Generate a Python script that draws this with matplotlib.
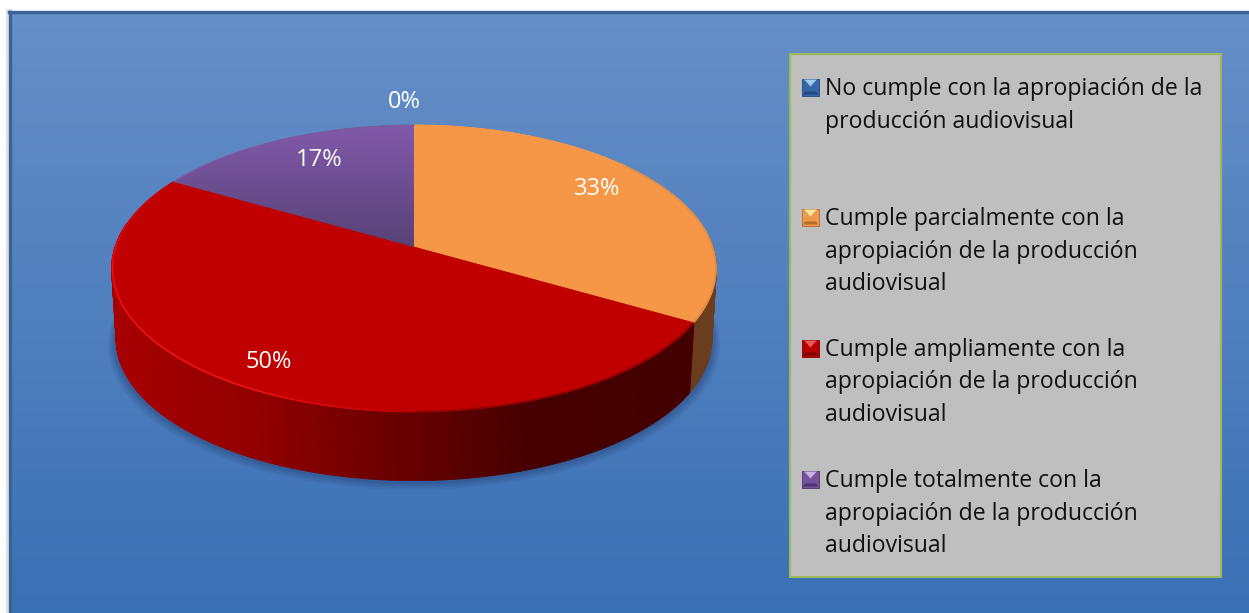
import numpy as np
import matplotlib
matplotlib.use("Agg")
import matplotlib.pyplot as plt
from matplotlib.patches import Polygon, Rectangle

# data
categories = [
    "No cumple con la apropiación de la\nproducción audiovisual",
    "Cumple parcialmente con la\napropiación de la producción\naudiovisual",
    "Cumple ampliamente con la\napropiación de la producción\naudiovisual",
    "Cumple totalmente con la\napropiación de la producción\naudiovisual",
]
values = [0, 2, 3, 1]
slice_names = ["blue", "orange", "red", "purple"]

# look
marker_cols = {"blue": ("#1f4a80", "#3568a8", "#9fcdf5"), "orange": ("#b86c2c", "#ee9a4c", "#fde6a0"),
               "red": ("#7c0000", "#b80000", "#ea5a5a"), "purple": ("#4c3370", "#74529c", "#c8b0e0")}
wall_cols = {"orange": (0.42, 0.24, 0.11), "red": (0.66, 0.0, 0.0), "purple": (0.3, 0.2, 0.4), "blue": (0.1, 0.2, 0.4)}
label_xy = [(404, 102), (597, 189), (269, 362), (319, 160)]
legend_first_y = [87, 217, 348, 479]
text_first_y = [89, 219, 350, 481]
line_step = 32.5

CX, APEX_Y = 414, 247
A, B, K = 299, 140.3, 0.15
WALL_SCALE, WALL_DY = 0.985, 71


def project(theta, scale=1.0, dy=0.0, r=1.0):
    # theta clockwise from the top of the disc, degrees
    t = np.radians(theta)
    x, y = r * np.sin(t), r * np.cos(t)
    d = 1 + K * y
    return CX + scale * A * x / d, APEX_Y + dy - scale * B * y / d


def gradient(ax, extent, top, bottom, clip=None, z=1):
    top, bottom = np.array(top), np.array(bottom)
    f = np.linspace(0, 1, 256)[:, None, None]
    img = top[None, None, :] * (1 - f) + bottom[None, None, :] * f
    im = ax.imshow(img, extent=extent, aspect="auto", zorder=z, interpolation="bilinear")
    if clip is not None:
        im.set_clip_path(clip)
    return im


def wall_shade(x, base):
    # dark towards the right of the picture
    f = np.interp(x, [115, 260, 400, 530, 700], [1.0, 0.86, 0.62, 0.42, 0.40])
    return tuple(c * f for c in base) if base == wall_cols["red"] else base


W, H = 1249, 613
fig = plt.figure(figsize=(W / 100, H / 100), dpi=100, facecolor="white")
ax = fig.add_axes([0, 0, 1, 1])
ax.set_xlim(0, W)
ax.set_ylim(H, 0)
ax.set_axis_off()

# panel
ax.add_patch(Rectangle((6, 9), 6, H, fc="#e0e0e0", ec="none", zorder=0.5))
gradient(ax, (9, W, H, 11), (0.40, 0.56, 0.78), (0.23, 0.44, 0.71), z=1)
ax.plot([10, 10], [H, 12], color="#3a6296", lw=2.4, zorder=2)
ax.plot([9, W], [12, 12], color="#3a6296", lw=2.4, zorder=2)

# shadow below the pie
th_all = np.arange(0, 360.5, 2)
for i, alpha in enumerate([0.06, 0.07, 0.08, 0.10]):
    grow = 1.012 - i * 0.006
    sx, sy = project(th_all, scale=grow, dy=WALL_DY + 5 - i)
    ax.add_patch(Polygon(np.c_[sx, sy], fc=(0.05, 0.12, 0.3), ec="none", alpha=alpha, zorder=3))

# slices
edges = np.cumsum([0] + values) / sum(values) * 360.0

# wall, front half only
for name, t0, t1 in zip(slice_names, edges[:-1], edges[1:]):
    lo, hi = max(t0, 85), min(t1, 280)
    if hi <= lo:
        continue
    ths = np.arange(lo, hi + 0.5, 1.0)
    ths[-1] = hi
    for a, b in zip(ths[:-1], ths[1:]):
        xa, ya = project(a)
        xb, yb = project(b)
        xc, yc = project(b, WALL_SCALE, WALL_DY)
        xd, yd = project(a, WALL_SCALE, WALL_DY)
        col = wall_shade((xa + xb) / 2, wall_cols[name])
        ax.add_patch(Polygon([(xa, ya), (xb, yb), (xc, yc), (xd, yd)], fc=col, ec=col, lw=0.6, zorder=4))

# top face
for name, t0, t1 in zip(slice_names, edges[:-1], edges[1:]):
    if t1 <= t0:
        continue
    ths = np.linspace(t0, t1, 120)
    sx, sy = project(ths)
    pts = np.r_[[(CX, APEX_Y)], np.c_[sx, sy]]
    if name == "orange":
        ax.add_patch(Polygon(pts, fc="#f59746", ec="#f59746", lw=0.5, zorder=5))
    elif name == "red":
        ax.add_patch(Polygon(pts, fc="#c00000", ec="#c00000", lw=0.5, zorder=5))
    elif name == "purple":
        p = Polygon(pts, fc="none", ec="none", zorder=5)
        ax.add_patch(p)
        gradient(ax, (170, 415, 248, 125), (0.51, 0.35, 0.67), (0.34, 0.26, 0.46), clip=p, z=5)

# rim highlight and bevel
for name, t0, t1 in zip(slice_names, edges[:-1], edges[1:]):
    ths = np.arange(t0, t1 + 1, 1.5)
    if len(ths) < 2:
        continue
    sx, sy = project(ths, r=0.997)
    for i in range(len(ths) - 1):
        if name == "red":
            f = np.interp(ths[i], [180, 210, 260, 298], [0.0, 0.8, 0.7, 0.0])
            col = (min(1, 0.75 + 0.25 * f), 0.12 * f, 0.12 * f)
            if ths[i] < 180:
                col = (0.55, 0.0, 0.0)
        elif name == "orange":
            col = "#e58c42" if ths[i] > 50 else "#f59746"
        else:
            col = "#7b5a9e"
        ax.plot(sx[i:i + 2], sy[i:i + 2], color=col, lw=1.0, zorder=6, solid_capstyle="round")

# labels
total = sum(values)
for v, (lx, ly) in zip(values, label_xy):
    ax.text(lx, ly, f"{round(100 * v / total)}%", color="white", fontsize=17, family="Open Sans",
            ha="center", va="center", zorder=8)

# legend
ax.add_patch(Rectangle((790, 54), 431, 523, fc="#bfbfbf", ec="#9bbb59", lw=1.5, zorder=7))
for name, label, y0, ty in zip(slice_names, categories, legend_first_y, text_first_y):
    dark, mid, light = marker_cols[name]
    mx0, mx1, my0, my1 = 802, 819, y0 - 8.5, y0 + 8.5
    ax.add_patch(Rectangle((mx0, my0), 17, 17, fc=mid, ec=dark, lw=0.6, zorder=8))
    ax.add_patch(Polygon([(mx0 + 1, my1 - 1), (mx1 - 1, my1 - 1), (mx1 - 3, my1 - 4), (mx0 + 3, my1 - 4)], fc=dark, ec="none", zorder=8.1))
    ax.add_patch(Polygon([(mx0 + 2, my0 + 1), (mx1 - 2, my0 + 1), (mx1 - 5, my0 + 4), (mx1 - 8.5, my0 + 8), (mx0 + 5, my0 + 4)], fc=light, ec="none", zorder=8.2))
    for j, line in enumerate(label.split("\n")):
        ax.text(825, ty + j * line_step, line, color="#111111", fontsize=16.6, family="Open Sans",
                ha="left", va="center", zorder=9)

fig.savefig("out.png", dpi=100)
